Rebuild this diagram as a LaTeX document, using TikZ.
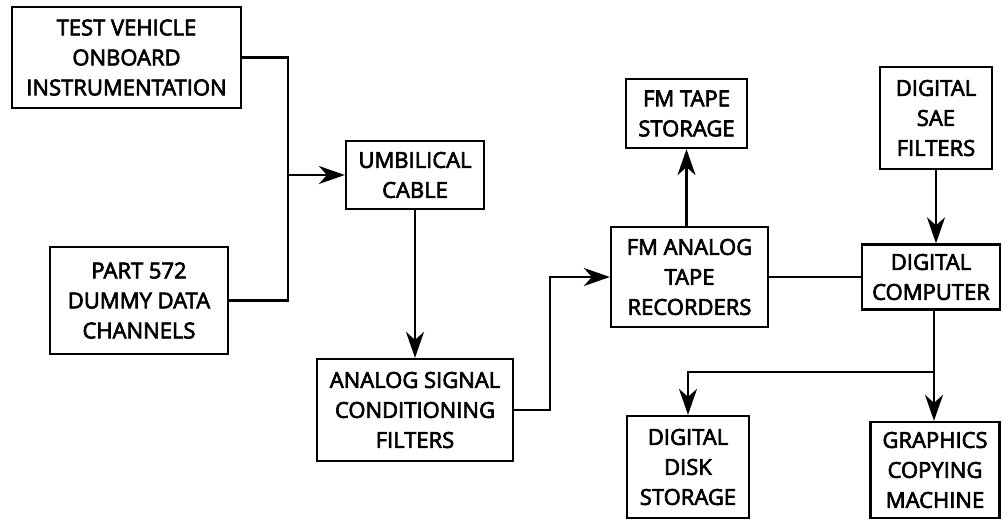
\documentclass[tikz,border=0pt]{standalone}
\usepackage{fontspec}
\setmainfont{Open Sans}[FakeBold=3]
\usetikzlibrary{arrows.meta}
\tikzset{
 blk/.style={draw, line width=2.3pt, align=center, inner sep=0pt, font=\fontsize{22}{30}\selectfont},
 link/.style={line width=2.3pt},
 >={Stealth[length=26pt,width=18pt,inset=8pt]}
}
\begin{document}
\begin{tikzpicture}[x=1pt,y=-1pt]
\useasboundingbox (0,0) rectangle (1002,520);
\node[blk, minimum width=229pt, minimum height=101pt] (tvi) at (126.5,57.5) {TEST VEHICLE\\ONBOARD\\INSTRUMENTATION};
\node[blk, minimum width=178pt, minimum height=107pt] (dummy) at (139,300.5) {PART 572\\DUMMY DATA\\CHANNELS};
\node[blk, minimum width=138pt, minimum height=68pt] (cable) at (415,175) {UMBILICAL\\CABLE};
\node[blk, minimum width=196pt, minimum height=102pt] (asc) at (415,410) {ANALOG SIGNAL\\CONDITIONING\\FILTERS};
\node[blk, minimum width=157pt, minimum height=100pt] (rec) at (689.5,277) {FM ANALOG\\TAPE\\RECORDERS};
\node[blk, minimum width=121pt, minimum height=69pt] (fmt) at (686.5,113.5) {FM TAPE\\STORAGE};
\node[blk, minimum width=112pt, minimum height=102pt] (sae) at (936,118) {DIGITAL\\SAE\\FILTERS};
\node[blk, minimum width=138pt, minimum height=65pt] (comp) at (931,277) {DIGITAL\\COMPUTER};
\node[blk, minimum width=122pt, minimum height=102pt] (disk) at (688,467) {DIGITAL\\DISK\\STORAGE};
\node[blk, minimum width=129pt, minimum height=96pt] (gfx) at (935,470) {GRAPHICS\\COPYING\\MACHINE};
\coordinate (bus) at (288,175);
\coordinate (bend) at (550,277);
\coordinate (split) at (934,372);
\draw[link] (tvi.east) -| (bus) |- (dummy.east);
\draw[link, ->] (bus) -- (cable.west);
\draw[link, ->] (cable.south) -- (asc.north);
\draw[link, ->] (asc.east) -| (bend) -- (rec.west);
\draw[link, ->] (rec.north -| fmt.south) -- (fmt.south);
\draw[link] (rec.east) -- (comp.west);
\draw[link, ->] (sae.south) -- (sae.south |- comp.north);
\draw[link] (comp.south -| split) -- (split);
\draw[link, ->] (split) -- (split |- gfx.north);
\draw[link, ->] (split) -| (disk.north);
\end{tikzpicture}
\end{document}
